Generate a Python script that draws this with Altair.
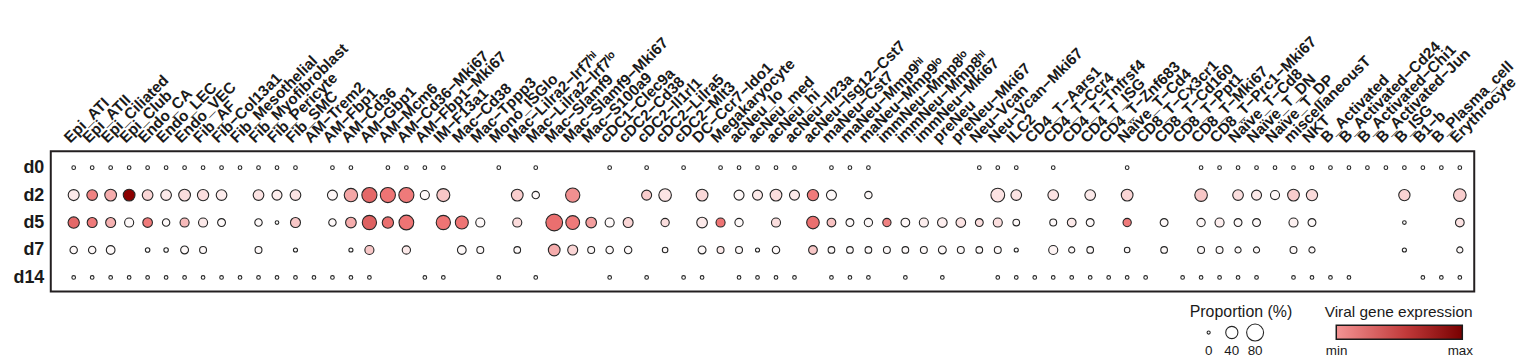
import json
import altair as alt
import pandas as pd

N = None

cell_types = [
    "Epi_ATI", "Epi_ATII", "Epi_Ciliated", "Epi_Club", "Endo_CA", "Endo_LEC", "Endo_VEC",
    "Fib_AF", "Fib−Col13a1", "Fib_Mesothelial", "Fib_Myofibroblast", "Fib_Pericyte", "Fib_SMC",
    "AM−Trem2", "AM−Fbp1", "AM−Cd36", "AM−Gbp1", "AM−Mcm6", "AM−Cd36−Mki67", "AM−Fbp1−Mki67",
    "IM−F13a1", "Mac−Cd38", "Mac−Tppp3", "Mono_ISGlo", "Mac−Lilra2−Irf7ʰⁱ", "Mac−Lilra2−Irf7ˡᵒ",
    "Mac−Slamf9", "Mac−Slamf9−Mki67", "Mac−S100a9", "cDC1−Clec9a", "cDC2−Cd38", "cDC2−Il1rl1",
    "cDC2−Lilra5", "cDC2−Mlt3", "DC−Ccr7−Ido1", "Megakaryocyte", "acNeu_lo", "acNeu_med",
    "acNeu_hi", "acNeu−Il23a", "acNeu−Isg12−Cst7", "maNeu−Cst7", "maNeu−Mmp9ʰⁱ", "maNeu−Mmp9ˡᵒ",
    "immNeu−Mmp8ˡᵒ", "immNeu−Mmp8ʰⁱ", "immNeu−Mki67", "preNeu", "preNeu−Mki67", "Neu−Vcan",
    "Neu−Vcan−Mki67", "ILC2", "CD4_T−Aars1", "CD4_T−Ccr4", "CD4_T−Tnfrsf4", "CD4_T_ISG",
    "CD4_T−Znf683", "Naïve_T−Cd4", "CD8_T−Cx3cr1", "CD8_T−Cd160", "CD8_T−Ppt1", "CD8_T−Mki67",
    "CD8_T−Prc1−Mki67", "Naïve_T−Cd8", "Naïve_T_DN", "Naïve_T_DP", "miscellaneousT", "NKT",
    "B_Activated", "B_Activated−Cd24", "B_Activated−Chi1", "B_Activated−Jun", "B_ISG", "B1−b",
    "B_Plasma_cell", "Erythrocyte",
]

days = ["d0", "d2", "d5", "d7", "d14"]

# proportion (%) per cell type, None = no dot
prop_d0 = [1, 1, 1, 1, 1, 1, 1, 1, 1, 1,
           1, 1, 1, N, 1, 1, N, 1, 1, 1,
           1, N, N, 1, N, 1, N, N, N, 1,
           N, 1, N, 1, N, 1, 1, 1, 1, 1,
           N, 1, 1, 1, N, N, N, N, N, 1,
           1, 1, N, 1, N, N, N, 1, N, N,
           N, 1, 1, 1, 1, 1, 1, 1, 1, 1,
           1, 1, 1, 1, 1, 1]
prop_d2 = [32, 30, 37, 37, 30, 30, 37, 34, 30, N,
           30, 26, 30, N, 26, 49, 63, 63, 63, 21,
           46, N, N, N, 37, 13, N, 56, N, N,
           N, 26, 43, N, 37, N, 26, 26, 37, 26,
           34, 26, N, 13, N, N, N, N, N, N,
           52, 30, N, 30, N, 30, N, 37, N, N,
           N, 43, N, 30, 26, 21, 37, 34, N, N,
           N, N, 34, N, N, 43]
prop_d5 = [34, 26, 26, 21, 24, 13, 21, 21, 15, N,
           13, 1, 26, N, 13, 30, 56, 34, 60, N,
           56, 46, 21, N, 21, N, 78, 52, 30, 21,
           26, N, 17, N, 30, 21, 17, N, 21, N,
           43, 19, 15, 17, 17, 19, 21, 24, 24, 15,
           21, 10, N, 11, 19, 15, N, 17, N, 15,
           N, 17, 21, 15, 15, N, 21, 15, N, N,
           N, N, 1, N, N, 19]
prop_d7 = [13, 13, 19, N, 3, 3, 15, 11, N, N,
           11, N, 2, N, N, 2, 21, N, 17, N,
           N, 19, 11, N, 10, N, 37, 26, 11, 13,
           13, N, 6, N, 15, 11, 11, 2, 13, N,
           19, 10, 10, 10, 11, 10, 11, 15, 11, 10,
           11, 2, N, 21, 8, 10, N, 6, N, 10,
           N, 11, 11, 8, 8, N, 11, 8, N, N,
           N, N, 2, N, N, 8]
prop_d14 = [1, 1, 1, 1, 1, 1, 1, 1, 1, 1,
            1, 1, 1, 1, 1, 1, 1, N, N, 1,
            1, N, N, 1, N, 1, N, N, N, 1,
            N, 1, N, 1, 1, N, 1, 1, 1, 1,
            N, 1, 1, 1, N, 1, N, 1, N, N,
            1, 1, 1, 1, 1, 1, 1, 1, 1, N,
            1, 1, 1, 1, 1, N, 1, 1, 1, 1,
            N, N, N, 1, 1, 1]

# viral gene expression (0 = min, 1 = max)
expr_d0 = [0, 0, 0, 0, 0, 0, 0, 0, 0, 0,
           0, 0, 0, 0, 0, 0, 0, 0, 0, 0,
           0, 0, 0, 0, 0, 0, 0, 0, 0, 0,
           0, 0, 0, 0, 0, 0, 0, 0, 0, 0,
           0, 0, 0, 0, 0, 0, 0, 0, 0, 0,
           0, 0, 0, 0, 0, 0, 0, 0, 0, 0,
           0, 0, 0, 0, 0, 0, 0, 0, 0, 0,
           0, 0, 0, 0, 0, 0]
expr_d2 = [.08, .45, .30, 1.0, .15, .08, .12, .12, .07, 0,
           .10, .06, .10, 0, .03, .32, .55, .50, .48, .02,
           .20, 0, 0, 0, .18, .02, 0, .40, 0, 0,
           0, .18, .10, 0, .14, 0, .03, .08, .12, .08,
           .48, .02, 0, .02, 0, 0, 0, 0, 0, 0,
           .10, .10, 0, .10, 0, .08, 0, .15, 0, 0,
           0, .20, 0, .12, .08, .03, .18, .13, 0, 0,
           0, 0, .16, 0, 0, .18]
expr_d5 = [.55, .48, .28, .02, .48, .02, .25, .08, .02, 0,
           .02, 0, .20, 0, .02, .30, .58, .52, .50, 0,
           .50, .50, .02, 0, .13, 0, .52, .48, .35, .02,
           .15, 0, .12, 0, .08, .50, .02, 0, .12, 0,
           .52, .22, .02, .02, .45, .03, .06, .06, .10, .12,
           .12, .02, 0, .02, .08, .02, 0, .48, 0, .02,
           0, .03, .06, .02, .02, 0, .05, .02, 0, 0,
           0, 0, 0, 0, 0, .10]
expr_d7 = [.02, .02, .02, 0, 0, 0, .02, .02, 0, 0,
           .02, 0, 0, 0, 0, 0, .20, 0, .08, 0,
           0, .02, .02, 0, .02, 0, .30, .15, .02, .02,
           .02, 0, .02, 0, .02, .08, .02, 0, .02, 0,
           .20, .02, .02, .02, .02, .02, .02, .02, .02, .02,
           .02, 0, 0, .04, .02, .02, 0, .02, 0, .02,
           0, .02, .02, .02, .02, 0, .02, .02, 0, 0,
           0, 0, 0, 0, 0, .02]
expr_d14 = [0, 0, 0, 0, 0, 0, 0, 0, 0, 0,
            0, 0, 0, 0, 0, 0, 0, 0, 0, 0,
            0, 0, 0, 0, 0, 0, 0, 0, 0, 0,
            0, 0, 0, 0, 0, 0, 0, 0, 0, 0,
            0, 0, 0, 0, 0, 0, 0, 0, 0, 0,
            0, 0, 0, 0, 0, 0, 0, 0, 0, 0,
            0, 0, 0, 0, 0, 0, 0, 0, 0, 0,
            0, 0, 0, 0, 0, 0]

size_legend_values = [0, 40, 80]
color_legend_labels = ["min", "max"]

prop_rows = [prop_d0, prop_d2, prop_d5, prop_d7, prop_d14]
expr_rows = [expr_d0, expr_d2, expr_d5, expr_d7, expr_d14]
records = []
for r, (pl, el) in enumerate(zip(prop_rows, expr_rows)):
    for c, (p, e) in enumerate(zip(pl, el)):
        if p is not None:
            records.append({"col": c, "row": r, "prop": p, "expr": e})
df = pd.DataFrame(records)

FONT = "Liberation Sans"
INK = "#1a1a1a"
label_js = json.dumps(cell_types, ensure_ascii=False)
day_js = json.dumps(days)

size_scale = alt.Scale(domain=[0, 80], range=[10, 290], zero=False)

dots = alt.Chart(df).mark_circle(opacity=1, stroke="#262626", strokeWidth=1.1).encode(
    x=alt.X("col:Q",
            scale=alt.Scale(domain=[-1.24, 75.78], nice=False, zero=False),
            axis=alt.Axis(orient="top", values=list(range(len(cell_types))),
                          labelExpr=f"{label_js}[datum.value]",
                          labelAngle=-45, labelAlign="left", labelBaseline="alphabetic",
                          labelPadding=8, labelOffset=-4, labelFont=FONT,
                          labelFontWeight="bold", labelFontSize=15.5, labelColor=INK,
                          labelOverlap=False, labelFlush=False, labelBound=False,
                          domain=False, ticks=False, tickSize=0, grid=False, title=None)),
    y=alt.Y("row:Q",
            scale=alt.Scale(domain=[-0.6, 4.51], reverse=True, nice=False, zero=False),
            axis=alt.Axis(values=[0, 1, 2, 3, 4], labelExpr=f"{day_js}[datum.value]",
                          labelFont=FONT, labelFontWeight="bold", labelFontSize=18,
                          labelColor=INK, labelPadding=7, labelOverlap=False,
                          labelFlush=False, domain=False, ticks=False, tickSize=0,
                          grid=False, title=None)),
    size=alt.Size("prop:Q", scale=size_scale, legend=None),
    fill=alt.Fill("expr:Q",
                  scale=alt.Scale(domain=[0, 0.5, 1],
                                  range=["#ffffff", "#ee7474", "#8b0000"],
                                  interpolate="rgb"),
                  legend=None),
)

layers = [dots]

# size legend
layers.append(alt.Chart(pd.DataFrame({"t": ["Proportion (%)"]})).mark_text(
    font=FONT, fontSize=16, color=INK, align="center", baseline="middle").encode(
    x=alt.value(1196.5), y=alt.value(162), text="t:N"))
for v, px in zip(size_legend_values, [1164, 1187.3, 1210.7]):
    d = pd.DataFrame({"prop": [v]})
    layers.append(alt.Chart(d).mark_circle(fill="white", opacity=1, stroke="#262626",
                                           strokeWidth=1.1).encode(
        x=alt.value(px), y=alt.value(182.3),
        size=alt.Size("prop:Q", scale=size_scale, legend=None)))
    layers.append(alt.Chart(d).mark_text(font=FONT, fontSize=13.5, color=INK,
                                         align="center", baseline="middle").encode(
        x=alt.value(px), y=alt.value(200.7), text="prop:Q"))

# colour legend
layers.append(alt.Chart(pd.DataFrame({"t": ["Viral gene expression"]})).mark_text(
    font=FONT, fontSize=15.5, color=INK, align="center", baseline="middle").encode(
    x=alt.value(1355), y=alt.value(162), text="t:N"))
grad = alt.Gradient(gradient="linear",
                    stops=[alt.GradientStop(color="#f49494", offset=0),
                           alt.GradientStop(color="#c13a3a", offset=0.55),
                           alt.GradientStop(color="#780000", offset=1)],
                    x1=0, x2=1, y1=0, y2=0)
layers.append(alt.Chart(pd.DataFrame({"a": [0]})).mark_rect(
    fill=grad, stroke=INK, strokeWidth=1.5).encode(
    x=alt.value(1292.3), x2=alt.value(1419), y=alt.value(175), y2=alt.value(189)))
for lab, px in zip(color_legend_labels, [1292.7, 1417]):
    layers.append(alt.Chart(pd.DataFrame({"t": [lab]})).mark_text(
        font=FONT, fontSize=13.5, color=INK, align="center", baseline="middle").encode(
        x=alt.value(px), y=alt.value(200.7), text="t:N"))

chart = alt.layer(*layers).properties(
    width=1431, height=141,
    padding={"left": 43, "top": 143, "right": 46, "bottom": 66},
    autosize=alt.AutoSizeParams(type="none"),
    background="white",
).configure_view(stroke="#231f20", strokeWidth=2)

chart.save("out.html", embed_options={"renderer": "svg", "actions": False})
